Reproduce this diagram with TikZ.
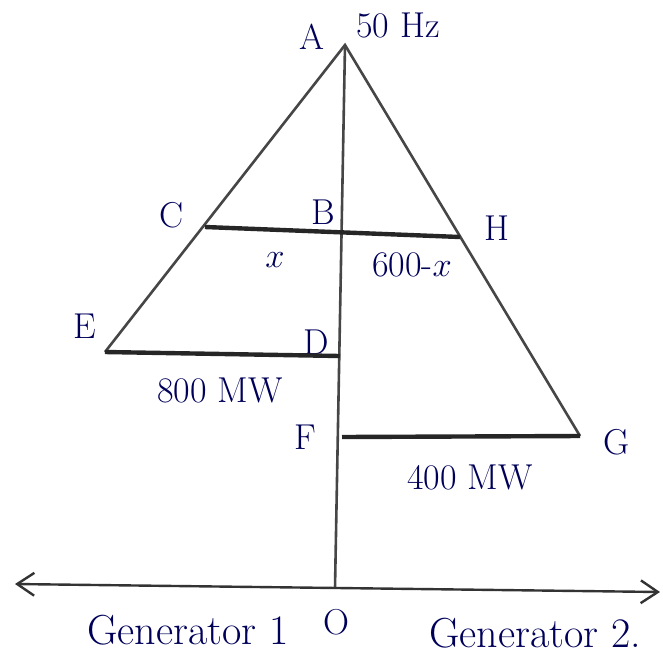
\documentclass[tikz,border=0pt]{standalone}
\usepackage{amsmath}
\usetikzlibrary{arrows.meta}

\begin{document}
\begin{tikzpicture}[
  x=0.5pt, y=-0.5pt,
  font=\fontsize{18}{20}\selectfont,
  lbl/.style={inner sep=1pt, text=blue!35!black},
  gen/.style={lbl, font=\fontsize{21}{24}\selectfont},
  side/.style={line width=1.3pt, gray!55!black},
  share/.style={line width=2.2pt, black!85},
  axis/.style={{Straight Barb[length=3mm, width=4mm]}-{Straight Barb[length=3mm, width=4mm]}, line width=1.2pt, black!80}
]
\useasboundingbox (0,0) rectangle (663,659);

% points of the frequency triangle
\coordinate (A) at (345,45);
\coordinate (O) at (335,588);
\coordinate (C) at (205,227);
\coordinate (B) at (342,232);
\coordinate (H) at (460,237);
\coordinate (E) at (105,352);
\coordinate (D) at (340,356);
\coordinate (F) at (342,437);
\coordinate (G) at (580,436);
\coordinate (axl) at (15,584);
\coordinate (axr) at (660,592);

% labels
\node[lbl] (la) at (312,37) {A};
\node[lbl] (hz) at (398,25) {50 Hz};
\node[lbl] (lc) at (172,215) {C};
\node[lbl] (lb) at (323,212) {B};
\node[lbl] (lh) at (497,228) {H};
\node[lbl] (px) at (275,260) {$x$};
\node[lbl] (pr) at (412,265) {600-$x$};
\node[lbl] (le) at (85,326) {E};
\node[lbl] (ld) at (316,342) {D};
\node[lbl] (p1) at (220,390) {800 MW};
\node[lbl] (lf) at (305,437) {F};
\node[lbl] (lg) at (617,442) {G};
\node[lbl] (p2) at (470,477) {400 MW};
\node[lbl] (lo) at (336,622) {O};
\node[gen] (g1) at (188,630) {Generator 1};
\node[gen] (g2) at (535,633) {Generator 2.};

% triangle sides and the frequency axis
\draw[side] (E) -- (A) -- (G);
\draw[side] (A) -- (O);
\draw[axis] (axl) -- (axr);

% load shares
\draw[share] (C) -- (H);
\draw[share] (E) -- (D);
\draw[share] (F) -- (G);
\end{tikzpicture}
\end{document}
